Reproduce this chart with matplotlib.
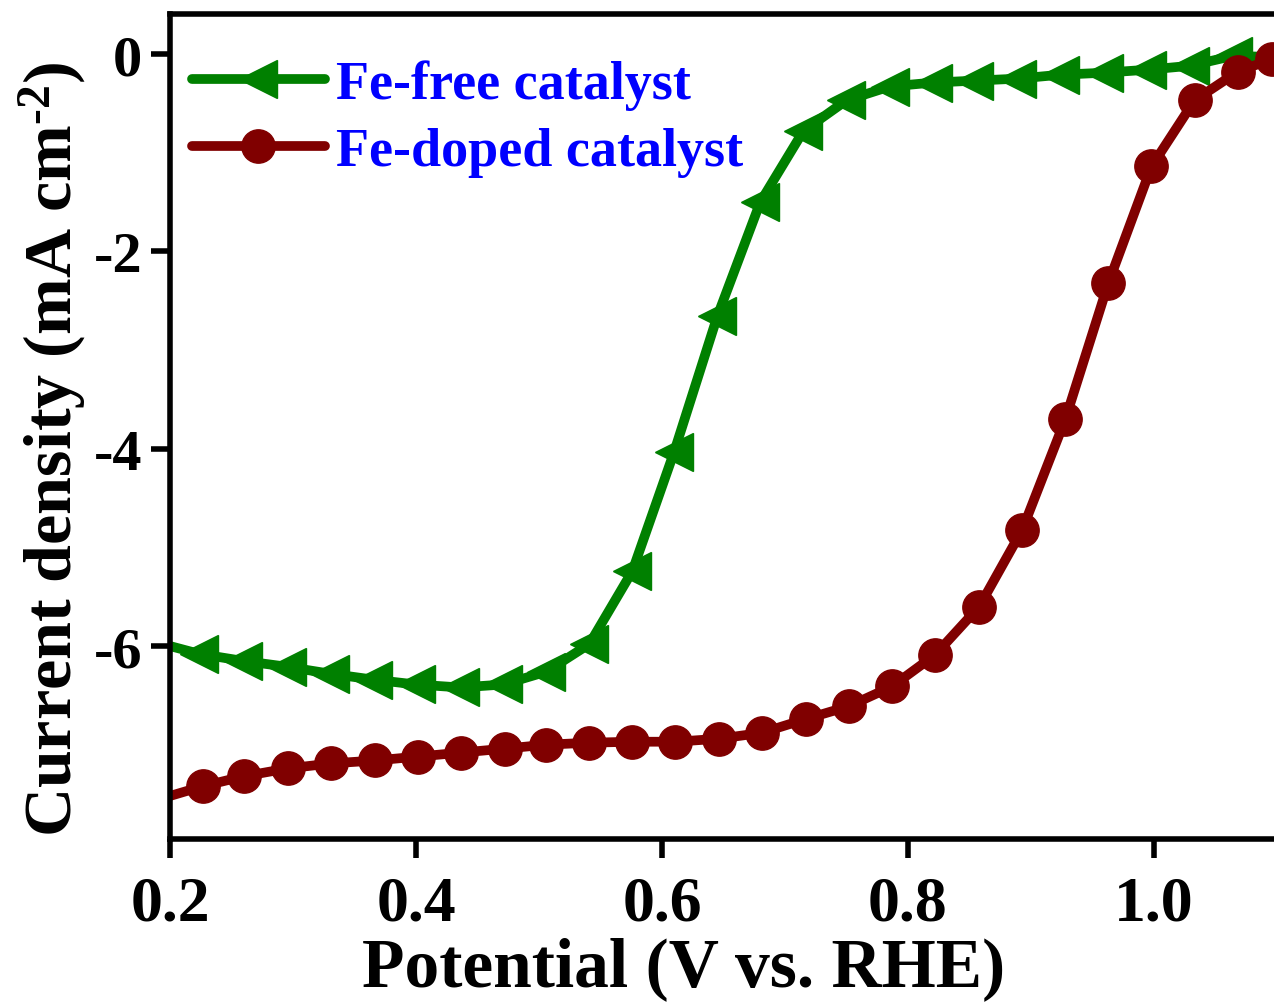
import matplotlib
matplotlib.use('Agg')
import matplotlib.pyplot as plt

plt.rcParams['font.family'] = ['Liberation Serif', 'DejaVu Serif']
plt.rcParams['font.weight'] = 'bold'
plt.rcParams['axes.unicode_minus'] = False
plt.rcParams['mathtext.fontset'] = 'custom'
plt.rcParams['mathtext.rm'] = 'Liberation Serif:bold'
plt.rcParams['mathtext.it'] = 'Liberation Serif:bold'
plt.rcParams['mathtext.bf'] = 'Liberation Serif:bold'

######################## DATA ###################################

# Fe-free catalyst (first and last points are line ends, no marker)
free_v = [0.200, 0.224, 0.259, 0.295, 0.330, 0.365, 0.400, 0.436, 0.471, 0.506,
          0.541, 0.576, 0.610, 0.645, 0.680, 0.715, 0.750, 0.785, 0.820, 0.854,
          0.889, 0.924, 0.959, 0.994, 1.029, 1.064, 1.097]
free_j = [-6.00, -6.08, -6.15, -6.21, -6.28, -6.34, -6.39, -6.42, -6.39, -6.26,
          -5.98, -5.24, -4.03, -2.66, -1.50, -0.78, -0.47, -0.33, -0.29, -0.27,
          -0.25, -0.21, -0.19, -0.16, -0.12, -0.02, -0.03]

# Fe-doped catalyst (first point is line start, no marker)
doped_v = [0.200, 0.227, 0.260, 0.296, 0.331, 0.367, 0.402, 0.437, 0.472, 0.506,
           0.541, 0.576, 0.611, 0.646, 0.681, 0.717, 0.752, 0.787, 0.822, 0.858,
           0.893, 0.928, 0.963, 0.998, 1.033, 1.068, 1.096]
doped_j = [-7.52, -7.42, -7.32, -7.24, -7.19, -7.16, -7.12, -7.08, -7.04, -7.00,
           -6.98, -6.97, -6.97, -6.94, -6.88, -6.74, -6.61, -6.41, -6.09, -5.60,
           -4.82, -3.70, -2.32, -1.14, -0.47, -0.18, -0.05]

x_ticks = [0.2, 0.4, 0.6, 0.8, 1.0]
y_ticks = [0, -2, -4, -6]

########################## PLOT ##################################

fig = plt.figure(figsize=(12.74, 10.03), dpi=100)
ax = fig.add_axes([0.1334, 0.1625, 0.8666, 0.8225])

ax.plot(free_v, free_j, color='#008000', lw=7, marker='<', markersize=27,
        markevery=slice(1, -1), label='Fe-free catalyst', solid_capstyle='round')
ax.plot(doped_v, doped_j, color='#800000', lw=7, marker='o', markersize=24,
        markevery=slice(1, None), label='Fe-doped catalyst', solid_capstyle='round')

ax.set_xlim(0.2, 1.0976)
ax.set_ylim(-7.956, 0.405)
ax.set_xticks(x_ticks)
ax.set_xticklabels(['%.1f' % v for v in x_ticks])
ax.set_yticks(y_ticks)
ax.set_yticklabels(['%d' % v for v in y_ticks])

ax.tick_params(axis='x', direction='out', length=14, width=4, labelsize=46, pad=12)
ax.tick_params(axis='y', direction='out', length=14, width=4, labelsize=42, pad=6)
for side in ['left', 'bottom', 'top']:
    ax.spines[side].set_linewidth(4)
ax.spines['right'].set_visible(False)

ax.set_xlabel('Potential (V vs. RHE)', fontsize=50, fontweight='bold')
ax.xaxis.set_label_coords(0.465, -0.118)
ax.set_ylabel(r'Current density (mA cm$^{\text{-2}}$)', fontsize=49, fontweight='bold')
ax.yaxis.set_label_coords(-0.073, 0.474)

leg = ax.legend(loc='upper left', bbox_to_anchor=(0.02, 0.945), frameon=False,
                handlelength=2.45, handletextpad=0.2, borderpad=0,
                labelspacing=0.32, borderaxespad=0, labelcolor='#0000FF',
                prop={'size': 39, 'weight': 'bold'})

fig.savefig('out.png', dpi=100)
